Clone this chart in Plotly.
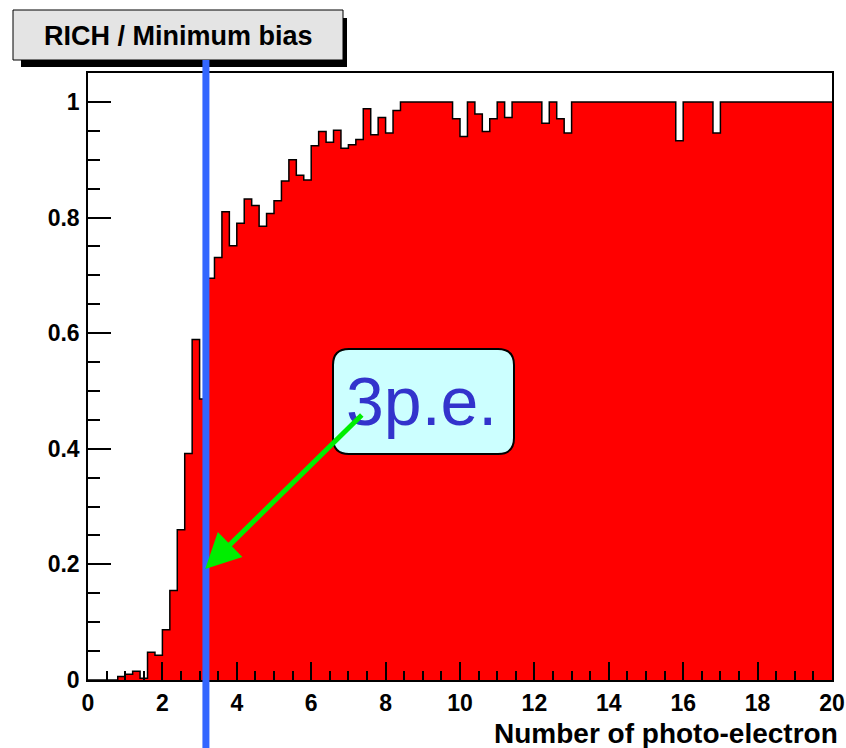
import numpy as np
import plotly.graph_objects as go

# ---------------- data ----------------
X_MIN, X_MAX, N_BINS = 0.0, 20.0, 100
efficiency = [
    0.000, 0.000, 0.000, 0.000, 0.006, 0.010, 0.015, 0.003, 0.048, 0.043,
    0.087, 0.155, 0.260, 0.392, 0.589, 0.486, 0.695, 0.731, 0.810, 0.751,
    0.790, 0.832, 0.821, 0.785, 0.807, 0.829, 0.863, 0.900, 0.873, 0.865,
    0.924, 0.949, 0.930, 0.951, 0.920, 0.926, 0.935, 0.988, 0.943, 0.973,
    0.946, 0.985, 1.000, 1.000, 1.000, 1.000, 1.000, 1.000, 1.000, 0.971,
    0.940, 1.000, 0.979, 0.949, 0.971, 1.000, 0.973, 1.000, 1.000, 1.000,
    1.000, 0.963, 1.000, 0.971, 0.946, 1.000, 1.000, 1.000, 1.000, 1.000,
    1.000, 1.000, 1.000, 1.000, 1.000, 1.000, 1.000, 1.000, 1.000, 0.933,
    1.000, 1.000, 1.000, 1.000, 0.946, 1.000, 1.000, 1.000, 1.000, 1.000,
    1.000, 1.000, 1.000, 1.000, 1.000, 1.000, 1.000, 1.000, 1.000, 1.000,
]
threshold_pe = 3.17
arrow_tip = (3.15, 0.192)
arrow_tail = (7.40, 0.461)
x_tick_vals = [0, 2, 4, 6, 8, 10, 12, 14, 16, 18, 20]
y_tick_vals = [0, 0.2, 0.4, 0.6, 0.8, 1.0]
y_tick_text = ["0", "0.2", "0.4", "0.6", "0.8", "1"]
title_text = "RICH / Minimum bias"
x_title = "Number of photo-electron"
label_text = "3p.e."

# ---------------- layout geometry ----------------
WIDTH, HEIGHT = 846, 748
L, R, T, B = 88, 832, 73, 680
PW, PH = R - L, B - T

def pxx(p):
    return (p - L) / PW

def pxy(p):
    return (B - p) / PH

edges = np.linspace(X_MIN, X_MAX, N_BINS + 1)
xs = list(edges)
ys = list(efficiency) + [efficiency[-1]]

FONT = "Liberation Sans, Arial, Helvetica, sans-serif"

fig = go.Figure()
fig.add_trace(go.Scatter(
    x=xs, y=ys, mode="lines", line_shape="hv",
    line=dict(color="black", width=1.5),
    fill="tozeroy", fillcolor="#ff0000",
    hoverinfo="skip", showlegend=False,
))

shapes = []
# title box shadow + box
shapes.append(dict(type="rect", xref="paper", yref="paper",
                   x0=pxx(21), x1=pxx(347), y0=pxy(67), y1=pxy(18),
                   fillcolor="black", line=dict(width=0), layer="above"))
shapes.append(dict(type="rect", xref="paper", yref="paper",
                   x0=pxx(13), x1=pxx(343), y0=pxy(60), y1=pxy(10),
                   fillcolor="#e4e4e4", line=dict(color="black", width=1), layer="above"))

# threshold vertical line
thr_paper = (threshold_pe - X_MIN) / (X_MAX - X_MIN)
shapes.append(dict(type="line", xref="paper", yref="paper",
                   x0=thr_paper, x1=thr_paper, y0=pxy(60), y1=pxy(760),
                   line=dict(color="#3366ff", width=7), layer="above"))

# rounded label box
bx0, bx1, by0, by1, rr = 333, 514, 349, 454, 16
pts = [
    ("M", [(bx0 + rr, by0)]),
    ("L", [(bx1 - rr, by0)]),
    ("Q", [(bx1, by0), (bx1, by0 + rr)]),
    ("L", [(bx1, by1 - rr)]),
    ("Q", [(bx1, by1), (bx1 - rr, by1)]),
    ("L", [(bx0 + rr, by1)]),
    ("Q", [(bx0, by1), (bx0, by1 - rr)]),
    ("L", [(bx0, by0 + rr)]),
    ("Q", [(bx0, by0), (bx0 + rr, by0)]),
]
path = ""
for cmd, plist in pts:
    path += cmd + " " + " ".join(f"{pxx(a):.5f},{pxy(b):.5f}" for a, b in plist) + " "
path += "Z"
shapes.append(dict(type="path", xref="paper", yref="paper", path=path,
                   fillcolor="#ccffff", line=dict(color="black", width=2), layer="above"))

annotations = [
    dict(xref="paper", yref="paper", x=pxx(178), y=pxy(36), text=f"<b>{title_text}</b>",
         showarrow=False, xanchor="center", yanchor="middle",
         font=dict(family=FONT, size=27, color="black")),
    dict(xref="paper", yref="paper", x=pxx(421), y=pxy(401), text=label_text,
         showarrow=False, xanchor="center", yanchor="middle",
         font=dict(family=FONT, size=68, color="#3333cc")),
    dict(x=arrow_tip[0], y=arrow_tip[1], ax=arrow_tail[0], ay=arrow_tail[1],
         xref="x", yref="y", axref="x", ayref="y", text="",
         showarrow=True, arrowhead=2, arrowsize=1.4, arrowwidth=5,
         arrowcolor="#00ee00", standoff=0, startstandoff=0),
    dict(xref="paper", yref="paper", x=pxx(840), y=pxy(733), text=f"<b>{x_title}</b>",
         showarrow=False, xanchor="right", yanchor="middle",
         font=dict(family=FONT, size=28, color="black")),
]

fig.update_layout(
    width=WIDTH, height=HEIGHT,
    margin=dict(l=L, r=WIDTH - R, t=T, b=HEIGHT - B, pad=0, autoexpand=False),
    paper_bgcolor="white", plot_bgcolor="white",
    shapes=shapes, annotations=annotations, showlegend=False,
)
fig.update_xaxes(
    range=[X_MIN, X_MAX], showgrid=False, zeroline=False, automargin=False,
    showline=True, linecolor="black", linewidth=1.5, mirror=True,
    ticks="inside", ticklen=18, tickwidth=1.5, tickcolor="black",
    tickvals=x_tick_vals, ticktext=[str(v) for v in x_tick_vals],
    tickfont=dict(family=FONT, size=23, color="black", weight="bold"),
    ticklabeloverflow="allow", ticklabelstandoff=2,
    minor=dict(dtick=0.5, ticks="inside", ticklen=9, tickwidth=1.5, tickcolor="black", showgrid=False),
    layer="above traces",
)
fig.update_yaxes(
    range=[0, 1.05], showgrid=False, zeroline=False, automargin=False,
    showline=True, linecolor="black", linewidth=1.5, mirror=True,
    ticks="inside", ticklen=23, tickwidth=1.5, tickcolor="black",
    tickvals=y_tick_vals, ticktext=y_tick_text,
    tickfont=dict(family=FONT, size=23, color="black", weight="bold"),
    ticklabelstandoff=2,
    minor=dict(dtick=0.05, ticks="inside", ticklen=12, tickwidth=1.5, tickcolor="black", showgrid=False),
    layer="above traces",
)

fig.write_html("out.html")
